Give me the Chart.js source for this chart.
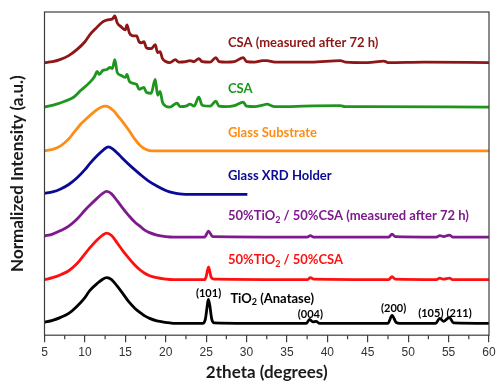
<!DOCTYPE html>
<html>
<head>
<meta charset="utf-8">
<script src="https://cdn.jsdelivr.net/npm/chart.js@4/dist/chart.umd.min.js"></script>
<style>
html, body { margin: 0; padding: 0; background: #fff; }
</style>
</head>
<body>
<canvas id="XrdDiagram" width="499" height="385"></canvas>
<script>
// profiles: [2theta, height above the curve's own baseline]
var csa72 = [[5,0],[6,1],[6.9,3],[8,7],[9,13],[10,21],[10.6,28],[11.3,34],[12.2,41],[12.8,43],[13.4,44],[13.7,47],
    [14,40],[14.5,36],[15,33],[15.2,38],[15.5,30],[16,27],[16.4,27],[16.7,21],[17,20],[17.3,21],[17.6,15],[18.2,14],
    [18.7,18],[19,10],[19.3,11],[19.6,4],[20,1],[20.5,0],[21.2,3],[21.6,0.5],[22.5,1],[23,2],[23.5,1],[24.1,4],[24.5,1],
    [25.5,0.5],[26.2,5],[26.6,1],[27.5,0.5],[28.5,1],[29.6,5],[30,1],[31,0.5],[32,2],[32.5,2],[33.5,0.5],[35,0.5],
    [38,0.5],[41.6,2],[42.2,0.5],[45,0],[47,1.5],[47.5,0],[52,0.5],[60,0]];
var csa = [[5,0],[6.5,3],[7.5,6],[8.6,10],[9.5,17],[10.6,25],[11.2,31],[11.5,36],[11.8,33],[12.2,37],[12.7,38],[13.1,40],
    [13.4,39],[13.7,48],[14,35],[14.5,32],[15,30],[15.2,33],[15.5,26],[16,24],[16.4,23],[16.7,18],[17,19],[17.3,20],
    [17.6,15],[18.2,14],[18.7,28],[19,12],[19.3,16],[19.6,5],[20,1],[20.5,0],[21.4,4],[21.8,0.5],[22.5,1],[23,3],[23.5,1],
    [24.1,10],[24.5,2],[25.5,1],[26.2,6],[26.6,1],[27.5,0.5],[28.5,1.5],[29.6,5],[30,1],[31,0.5],[32,2],[32.5,3],
    [33.5,0.5],[35,0.5],[37,1],[41.6,1.5],[42.2,0.5],[45,0.5],[60,0]];
var glassSubstrate = [[5,0],[6,1.5],[7,5],[8,12],[8.6,18],[9.5,27],[10.6,35.5],[11.5,41.5],[12,44],[12.5,45],[13,44],
    [13.6,40],[14.2,34],[14.7,29],[15.5,20],[16.2,11.5],[16.8,5.5],[17.5,1.5],[18.2,0],[60,0]];
var glassHolder = [[5,1],[6,2.5],[7,5.5],[8,10],[9,16.5],[10,25],[10.6,31],[11.5,39],[12.3,45],[12.9,48],[13.5,45.5],
    [14.1,41],[14.7,36],[15.8,27.5],[16.8,20.5],[17.8,14],[18.9,8.5],[20,4],[21,1.5],[22,0.3],[23,0],[30.1,0]];
var mix72 = [[5,1],[6,3],[7,6.5],[8,11],[9,18],[10,27],[10.6,32],[11.5,39],[12.2,44],[12.7,46],[13.3,43.5],[14,36.5],
    [14.7,29],[15.5,21],[16.2,15],[16.8,11],[17.4,7],[18,4.5],[18.9,2],[20,0.5],[21,0],[24.8,0],[25.3,6],[25.8,0.5],
    [37.5,0],[37.9,1.5],[38.3,0],[47.6,0],[48,3],[48.4,0.5],[53.5,0],[53.9,1.5],[54.4,0.5],[55.1,2],[55.5,0],[60,0]];
var mix = [[5,0],[6,2],[7,5],[8,9],[9,16],[10,26],[10.6,32],[11.5,40],[12.2,45],[12.7,47],[13.3,44.5],[14,37],
    [14.7,29],[15.5,21],[16.2,14.5],[16.8,10],[17.4,6.5],[18,4],[18.9,2],[20,0.5],[21,0],[24.8,0],[25,3],[25.3,13],
    [25.6,3],[26,0.5],[37.5,0],[37.9,2],[38.3,0.5],[47.6,0],[48,3],[48.4,0.5],[53.5,0],[53.9,1.5],[54.4,0.5],[55.1,1.5],
    [55.5,0],[60,0]];
var tio2 = [[5,1],[6,3],[7,6],[8,10],[9,17],[10,26],[10.6,33],[11.5,40],[12.2,44.5],[12.7,46],[13.3,44],[14,37.5],
    [14.7,30],[15.5,21],[16.2,15],[16.8,11],[17.4,7.5],[18,5],[18.9,2.5],[20,1],[21,0],[24.6,0],[24.9,4],[25.3,24],
    [25.7,4],[26,0.5],[30,0],[37.4,0],[37.8,4],[38.2,1.5],[38.6,2],[39,0],[47.5,0],[48,8],[48.5,1],[49,0],[53.4,0],
    [53.9,5],[54.4,2],[55.1,6],[55.6,0.5],[60,0]];

var seriesNames = ['CSA (measured after 72 h)', 'CSA', 'Glass Substrate', 'Glass XRD Holder',
    '50%TiO_2 / 50%CSA (measured after 72 h)', '50%TiO_2 / 50%CSA', 'TiO_2 (Anatase)'];
var seriesData = [csa72, csa, glassSubstrate, glassHolder, mix72, mix, tio2];
var offsets = [275, 230, 186, 142, 99, 56, 12];
var colors = ['#8e1616', '#1e961e', '#ff8c14', '#0a0a96', '#7e1a8e', '#ff1010', '#000000'];

var xTicks = [5, 10, 15, 20, 25, 30, 35, 40, 45, 50, 55, 60];
var minorTicks = [7.5, 12.5, 17.5, 22.5, 27.5, 32.5, 37.5, 42.5, 47.5, 52.5, 57.5];

// reflection labels of anatase: [text, 2theta, height]
var hklLabels = [['(101)', 25.3, 42], ['(004)', 37.9, 21], ['(200)', 48.2, 27], ['(105)', 52.8, 22], ['(211)', 56.3, 22]];
// name labels: [2theta of left edge, height]
var nameAt = [[27.7, 295], [27.7, 249], [27.7, 204], [27.7, 161], [27.7, 120], [27.7, 76], [28.0, 37]];


// text with "_x" subscripts
function drawRich(ctx, text, x, y, size) {
    var parts = text.split('_');
    var cx = x;
    for (var i = 0; i < parts.length; ++i) {
        var s = parts[i];
        if (i > 0) {
            ctx.font = 'bold ' + Math.round(size * 0.7) + 'px Lato';
            ctx.fillText(s.charAt(0), cx, y + size * 0.3);
            cx += ctx.measureText(s.charAt(0)).width;
            s = s.substring(1);
        }
        ctx.font = 'bold ' + size + 'px Lato';
        ctx.fillText(s, cx, y);
        cx += ctx.measureText(s).width;
    }
}

var XrdExtras = {
    id: 'xrdExtras',
    afterDraw: function (chart) {
        var ctx = chart.ctx;
        var area = chart.chartArea;
        var xs = chart.scales.x;
        var ys = chart.scales.y;
        ctx.save();

        // frame
        ctx.strokeStyle = '#3c3c3c';
        ctx.lineWidth = 1.2;
        ctx.strokeRect(area.left, area.top, area.right - area.left, area.bottom - area.top);

        // minor ticks
        ctx.beginPath();
        for (var i = 0; i < minorTicks.length; ++i) {
            var px = xs.getPixelForValue(minorTicks[i]);
            ctx.moveTo(px, area.bottom);
            ctx.lineTo(px, area.bottom + 4);
        }
        ctx.stroke();

        // names
        ctx.textBaseline = 'middle';
        ctx.textAlign = 'left';
        for (var j = 0; j < seriesNames.length; ++j) {
            ctx.fillStyle = colors[j];
            drawRich(ctx, seriesNames[j], xs.getPixelForValue(nameAt[j][0]), ys.getPixelForValue(nameAt[j][1]), 13);
        }

        // hkl
        ctx.fillStyle = '#000';
        ctx.font = 'bold 11px Lato';
        ctx.textAlign = 'center';
        for (var k = 0; k < hklLabels.length; ++k) {
            ctx.fillText(hklLabels[k][0], xs.getPixelForValue(hklLabels[k][1]), ys.getPixelForValue(hklLabels[k][2]));
        }
        ctx.restore();
    }
};

var datasets = [];
for (var n = 0; n < seriesData.length; ++n) {
    var pts = [];
    for (var p = 0; p < seriesData[n].length; ++p) {
        pts.push({x: seriesData[n][p][0], y: seriesData[n][p][1] + offsets[n]});
    }
    datasets.push({
        label: seriesNames[n],
        data: pts,
        borderColor: colors[n],
        backgroundColor: colors[n],
        borderWidth: 2.8,
        pointRadius: 0,
        cubicInterpolationMode: 'monotone'
    });
}

var XrdChart = new Chart(document.getElementById('XrdDiagram'), {
    type: 'line',
    data: {datasets: datasets},
    options: {
        responsive: false,
        animation: false,
        layout: {padding: {left: 0, right: 10, top: 12, bottom: 2}},
        scales: {
            x: {
                type: 'linear',
                min: 5,
                max: 60,
                ticks: {
                    stepSize: 5,
                    color: '#333',
                    padding: 3,
                    font: {family: 'Liberation Sans', size: 12}
                },
                afterBuildTicks: function (scale) {
                    scale.ticks = xTicks.map(function (v) { return {value: v}; });
                },
                grid: {drawOnChartArea: false, drawTicks: true, tickLength: 7, color: '#3c3c3c', lineWidth: 1.2},
                border: {display: false},
                title: {
                    display: true,
                    text: '2theta (degrees)',
                    color: '#1a1a1a',
                    padding: {top: 0, bottom: 0},
                    font: {family: 'Lato', size: 17, weight: 'bold'}
                }
            },
            y: {
                type: 'linear',
                min: 0,
                max: 326,
                ticks: {display: false},
                grid: {display: false, drawTicks: false},
                border: {display: false},
                title: {
                    display: true,
                    text: 'Normalized Intensity (a.u.)',
                    color: '#1a1a1a',
                    padding: {top: 7, bottom: 17.1},
                    font: {family: 'Lato', size: 17, weight: 'bold'}
                }
            }
        },
        plugins: {
            legend: {display: false},
            tooltip: {enabled: false}
        }
    },
    plugins: [XrdExtras]
});
</script>
</body>
</html>
